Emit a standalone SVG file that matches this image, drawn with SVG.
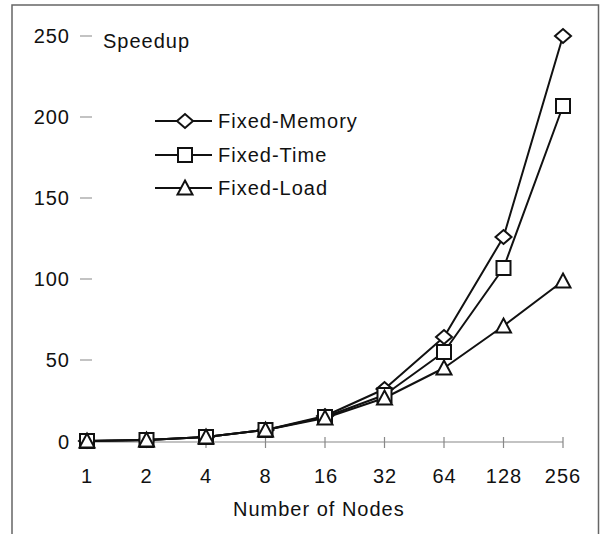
<svg xmlns="http://www.w3.org/2000/svg" width="600" height="534" viewBox="0 0 600 534">
<style>
text{font-family:"Liberation Sans",Arial,sans-serif;font-size:20px;fill:#111;letter-spacing:1px}
.yl{text-anchor:end}
.xl{text-anchor:middle}
.frame{fill:none;stroke:#666;stroke-width:1.5}
.axis{fill:none;stroke:#888;stroke-width:1.2}
.data{fill:none;stroke:#111;stroke-width:2;stroke-linejoin:round}
.mk{fill:#fff;stroke:#111;stroke-width:2}
</style>
<defs>
<path id="dia" d="M-8,0 L0,-7 L8,0 L0,7 Z"/>
<rect id="sq" x="-7" y="-7" width="14" height="14"/>
<path id="tri" d="M0,-7.5 L7.5,6.5 L-7.5,6.5 Z"/>
</defs>
<g id="frame">
<path class="frame" d="M12,534 L12,5 L598.5,5 L598.5,534"/>
</g>
<g id="y-axis">
<path class="axis" d="M80,36 H92 M80,117 H92 M80,198 H92 M80,279 H92 M80,360 H92 M80,441 H92"/>
<text class="yl" x="70" y="43">250</text>
<text class="yl" x="70" y="124">200</text>
<text class="yl" x="70" y="205">150</text>
<text class="yl" x="70" y="286">100</text>
<text class="yl" x="70" y="367">50</text>
<text class="yl" x="70" y="449">0</text>
<text x="103" y="48">Speedup</text>
</g>
<g id="x-axis">
<path class="axis" d="M87,442 H563 M87,437 V448 M146.5,437 V448 M206,437 V448 M265.5,437 V448 M325,437 V448 M384.5,437 V448 M444,437 V448 M503.5,437 V448 M563,437 V448"/>
<text class="xl" x="87" y="483">1</text>
<text class="xl" x="146.5" y="483">2</text>
<text class="xl" x="206" y="483">4</text>
<text class="xl" x="265.5" y="483">8</text>
<text class="xl" x="326" y="483">16</text>
<text class="xl" x="385" y="483">32</text>
<text class="xl" x="444.5" y="483">64</text>
<text class="xl" x="504" y="483">128</text>
<text class="xl" x="563" y="483">256</text>
<text x="233" y="516" letter-spacing="1.4">Number of Nodes</text>
</g>
<g id="connectors">
<polyline class="data" points="87,441 146.5,440 206,437 265.5,430 325,416 384.5,389 444,337 503.5,237 563,36"/>
<polyline class="data" points="87,441 146.5,440 206,437 265.5,430 325,417 384.5,395 444,352 503.5,268 563,106"/>
<polyline class="data" points="87,441 146.5,440 206,437 265.5,430 325,418 384.5,398 444,368 503.5,326 563,281"/>
</g>
<g id="series-fixed-memory">
<use href="#dia" class="mk" x="87" y="441"/>
<use href="#dia" class="mk" x="146.5" y="440"/>
<use href="#dia" class="mk" x="206" y="437"/>
<use href="#dia" class="mk" x="265.5" y="430"/>
<use href="#dia" class="mk" x="325" y="416"/>
<use href="#dia" class="mk" x="384.5" y="389"/>
<use href="#dia" class="mk" x="444" y="337"/>
<use href="#dia" class="mk" x="503.5" y="237"/>
<use href="#dia" class="mk" x="563" y="36"/>
</g>
<g id="series-fixed-time">
<use href="#sq" class="mk" x="87" y="441"/>
<use href="#sq" class="mk" x="146.5" y="440"/>
<use href="#sq" class="mk" x="206" y="437"/>
<use href="#sq" class="mk" x="265.5" y="430"/>
<use href="#sq" class="mk" x="325" y="417"/>
<use href="#sq" class="mk" x="384.5" y="395"/>
<use href="#sq" class="mk" x="444" y="352"/>
<use href="#sq" class="mk" x="503.5" y="268"/>
<use href="#sq" class="mk" x="563" y="106"/>
</g>
<g id="series-fixed-load">
<use href="#tri" class="mk" x="87" y="441"/>
<use href="#tri" class="mk" x="146.5" y="440"/>
<use href="#tri" class="mk" x="206" y="437"/>
<use href="#tri" class="mk" x="265.5" y="430"/>
<use href="#tri" class="mk" x="325" y="418"/>
<use href="#tri" class="mk" x="384.5" y="398"/>
<use href="#tri" class="mk" x="444" y="368"/>
<use href="#tri" class="mk" x="503.5" y="326"/>
<use href="#tri" class="mk" x="563" y="281"/>
</g>
<g id="legend">
<path class="data" d="M155,121 H212 M155,155 H212 M155,188 H212"/>
<use href="#dia" class="mk" x="185" y="121"/>
<use href="#sq" class="mk" x="185" y="155"/>
<use href="#tri" class="mk" x="185" y="188"/>
<text x="218" y="128">Fixed-Memory</text>
<text x="218" y="162">Fixed-Time</text>
<text x="218" y="195">Fixed-Load</text>
</g>
</svg>
